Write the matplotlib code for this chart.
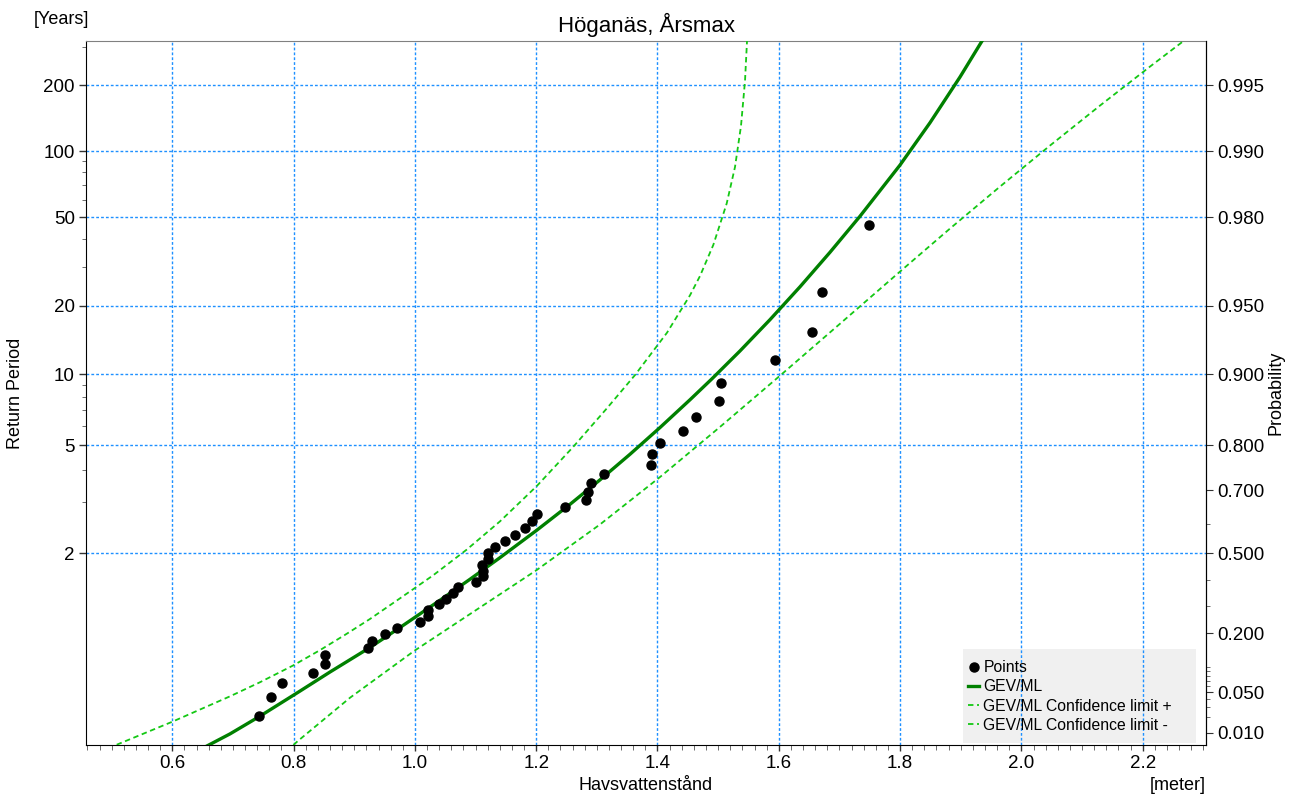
import numpy as np
import matplotlib
matplotlib.use("Agg")
import matplotlib.pyplot as plt
from matplotlib.patches import Rectangle
from matplotlib.ticker import MultipleLocator, FixedLocator

plt.rcParams['font.family'] = ['Liberation Sans', 'DejaVu Sans']

# Observerade årsmax (havsvattenstånd, m) och återkomsttid (år)
punkter_x = [0.743, 0.762, 0.781, 0.832, 0.852, 0.852, 0.923, 0.930, 0.950, 0.970,
             1.008, 1.022, 1.021, 1.040, 1.052, 1.062, 1.071, 1.101, 1.112, 1.113,
             1.111, 1.121, 1.121, 1.132, 1.149, 1.165, 1.181, 1.193, 1.201, 1.247,
             1.282, 1.286, 1.290, 1.311, 1.389, 1.391, 1.404, 1.442, 1.464, 1.501,
             1.504, 1.594, 1.654, 1.672, 1.748]
punkter_T = [1.022, 1.045, 1.070, 1.095, 1.122, 1.150, 1.179, 1.211, 1.243, 1.278,
             1.314, 1.353, 1.394, 1.438, 1.484, 1.533, 1.586, 1.643, 1.704, 1.769,
             1.840, 1.917, 2.000, 2.091, 2.190, 2.300, 2.421, 2.556, 2.706, 2.875,
             3.067, 3.286, 3.538, 3.833, 4.182, 4.600, 5.111, 5.750, 6.571, 7.667,
             9.200, 11.50, 15.33, 23.00, 46.00]

# GEV/ML anpassning (avläst längs kurvan)
gev_x = [0.6539, 0.6951, 0.7446, 0.8106, 0.8600, 0.9260, 0.9754, 1.0414, 1.0909,
         1.1403, 1.2013, 1.2557, 1.3052, 1.3547, 1.4041, 1.4536, 1.4899, 1.5360,
         1.5855, 1.6350, 1.6844, 1.7338, 1.7998, 1.8493, 1.8988, 1.9399]
gev_T = [1.0048, 1.0096, 1.0215, 1.0544, 1.0970, 1.1817, 1.2805, 1.4710, 1.6704,
         1.9352, 2.3839, 2.9453, 3.6470, 4.6068, 5.9277, 7.7658, 9.561, 12.634,
         17.37, 24.35, 34.79, 50.60, 86.39, 134.7, 217.8, 334.4]

# Konfidensgränser
ci_plus_x = [0.5083, 0.6000, 0.6951, 0.7446, 0.7990, 0.8435, 0.8848, 0.9260, 0.9754,
             1.0298, 1.0854, 1.1403, 1.2008, 1.2612, 1.3162, 1.3629, 1.4157, 1.4536,
             1.4701, 1.4920, 1.5141, 1.5278, 1.5377, 1.5443, 1.5481]
ci_plus_T = [1.00545, 1.01694, 1.04554, 1.07194, 1.11579, 1.17051, 1.24071, 1.33300,
             1.48694, 1.71227, 2.05133, 2.55676, 3.44863, 4.94097, 7.1241, 9.9196,
             15.209, 22.31, 27.22, 37.54, 57.83, 84.70, 130.4, 209.1, 338.2]
ci_minus_x = [0.7776, 0.8068, 0.8930, 0.9990, 1.0909, 1.2008, 1.3052, 1.4041, 1.5030,
              1.6020, 1.7009, 1.7998, 1.8822, 1.9647, 2.0471, 2.1296, 2.2120, 2.2698]
ci_minus_T = [1.00264, 1.00663, 1.04337, 1.16770, 1.36601, 1.77513, 2.49321, 3.73933,
              5.96197, 9.8589, 16.658, 28.48, 44.51, 68.99, 106.0, 161.3, 242.9, 321.7]

T_major = [2, 5, 10, 20, 50, 100, 200]
T_minor = [3, 4, 6, 7, 8, 9, 30, 40, 60, 70, 80, 90, 300]
p_major = [0.01, 0.05, 0.2, 0.5, 0.7, 0.8, 0.9, 0.95, 0.98, 0.99, 0.995]
p_minor = [0.02, 0.03, 0.04, 0.06, 0.07, 0.08, 0.09, 0.1, 0.3, 0.4, 0.6]


# Gumbel-skala (reducerad variabel)
def gum_T(T):
    T = np.asarray(T, dtype=float)
    with np.errstate(all='ignore'):
        return -np.log(-np.log(1 - 1 / T))


def gum_T_inv(g):
    g = np.asarray(g, dtype=float)
    with np.errstate(all='ignore'):
        return 1 / (1 - np.exp(-np.exp(-g)))


def gum_p(p):
    p = np.asarray(p, dtype=float)
    with np.errstate(all='ignore'):
        return -np.log(-np.log(p))


def gum_p_inv(g):
    g = np.asarray(g, dtype=float)
    with np.errstate(all='ignore'):
        return np.exp(-np.exp(-g))


fig = plt.figure(figsize=(12.98, 7.95), dpi=100)
fig.subplots_adjust(left=86 / 1298, right=1206 / 1298, bottom=50 / 795, top=1 - 41 / 795)
ax = fig.add_subplot(111)
ax.set_yscale('function', functions=(gum_T, gum_T_inv))

T_lo, T_hi = 1.00537, 318.0
ax.set_xlim(0.4577, 2.3044)
ax.set_ylim(T_lo, T_hi)

ax.set_axisbelow(True)
ax.grid(True, which='major', color='#1E90FF', linestyle=(0, (2, 1.5)), linewidth=1)

ax.add_patch(Rectangle((0.783, 0.0028), 0.208, 0.1336, transform=ax.transAxes,
                       facecolor='#F0F0F0', edgecolor='none', zorder=0.3))

ax.plot(punkter_x, punkter_T, 'o', color='black', ms=6.5, label='Points', zorder=4)
ax.plot(gev_x, gev_T, color='#008000', lw=2.4, label='GEV/ML', zorder=3,
        solid_joinstyle='round')
ax.plot(ci_plus_x, ci_plus_T, color='#14C814', lw=1.3, dashes=(3, 2),
        label='GEV/ML Confidence limit +', zorder=3)
ax.plot(ci_minus_x, ci_minus_T, color='#14C814', lw=1.3, dashes=(3, 2),
        label='GEV/ML Confidence limit -', zorder=3)

# x-axel
ax.set_xticks(np.arange(0.6, 2.21, 0.2))
ax.set_xticklabels(['%.1f' % v for v in np.arange(0.6, 2.21, 0.2)])
ax.xaxis.set_minor_locator(MultipleLocator(0.02))

# vänster y-axel
ax.set_yticks(T_major)
ax.set_yticklabels([str(v) for v in T_major])
ax.yaxis.set_minor_locator(FixedLocator(T_minor))
ax.yaxis.set_minor_formatter(plt.NullFormatter())

ax.tick_params(axis='both', which='major', labelsize=13.5, color='#333333', width=1)
ax.tick_params(axis='y', which='major', length=5, pad=3)
ax.tick_params(axis='y', which='minor', length=3, color='#555555')
ax.tick_params(axis='x', which='major', length=4, pad=3.5)
ax.tick_params(axis='x', which='minor', length=3.5, color='#555555')

for s in ['left', 'bottom', 'right']:
    ax.spines[s].set_color('black')
ax.spines['top'].set_color('#808080')

# höger y-axel (sannolikhet)
ax2 = ax.twinx()
ax2.set_yscale('function', functions=(gum_p, gum_p_inv))
ax2.set_ylim(1 - 1 / T_lo, 1 - 1 / T_hi)
ax2.set_yticks(p_major)
ax2.set_yticklabels(['%.3f' % v for v in p_major])
ax2.yaxis.set_minor_locator(FixedLocator(p_minor))
ax2.yaxis.set_minor_formatter(plt.NullFormatter())
ax2.tick_params(axis='y', which='major', labelsize=13.5, length=5, pad=3, color='#333333')
ax2.tick_params(axis='y', which='minor', length=3, color='#555555')
for s in ['left', 'bottom', 'top']:
    ax2.spines[s].set_visible(False)

leg = ax.legend(loc='upper left', bbox_to_anchor=(0.783, 0.1273), bbox_transform=ax.transAxes,
                frameon=False, fontsize=11.3, handlelength=0.75, handletextpad=0.25,
                labelspacing=0.27, borderpad=0.3, borderaxespad=0, numpoints=1)
leg.set_zorder(6)

# texter
fig.text(646 / 1298, 1 - 25 / 795, 'Höganäs, Årsmax', ha='center', va='center', fontsize=16)
fig.text(89 / 1298, 1 - 20 / 795, '[Years]', ha='right', va='center', fontsize=13)
fig.text(646 / 1298, 1 - 785 / 795, 'Havsvattenstånd', ha='center', va='center', fontsize=13)
fig.text(1206 / 1298, 1 - 785 / 795, '[meter]', ha='right', va='center', fontsize=13)
fig.text(15.5 / 1298, 1 - 393 / 795, 'Return Period', rotation=90, ha='center', va='center', fontsize=13)
fig.text(1276 / 1298, 1 - 393 / 795, 'Probability', rotation=90, ha='center', va='center', fontsize=13)

fig.savefig('out.png', dpi=100)
